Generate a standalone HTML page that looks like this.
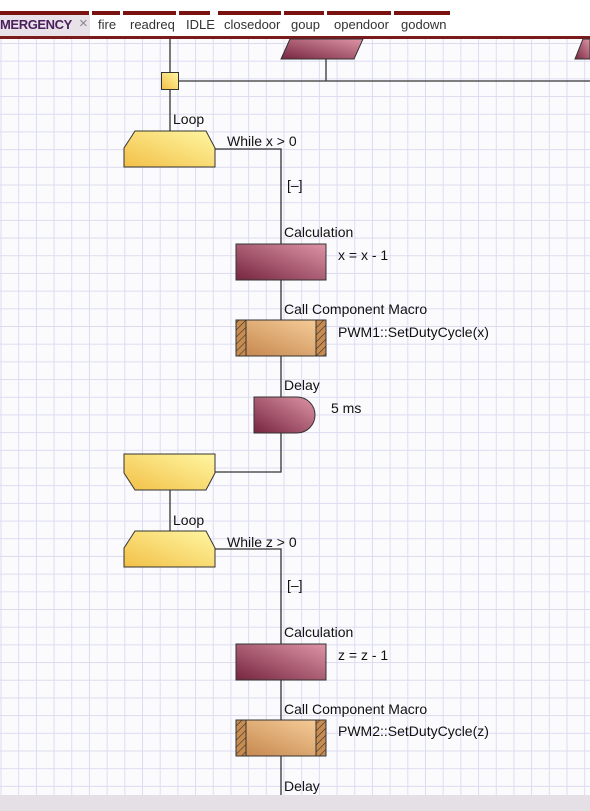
<!DOCTYPE html>
<html><head><style>
body{margin:0;width:590px;height:811px;overflow:hidden;background:#fff;font-family:"Liberation Sans",sans-serif;position:relative}
#grid{position:absolute;left:0;top:39px;width:590px;height:756px;background-color:#fbfbfe;
background-image:linear-gradient(to right,#dcdcf0 1px,transparent 1px),linear-gradient(to bottom,#dcdcf0 1px,transparent 1px);
background-size:17.7px 17.7px;background-position:0.5px 4px}
#tabs{position:absolute;left:0;top:0;width:590px;height:39px;background:#fff}
.t{position:absolute;top:17px;font-size:13px;color:#333}
.s{position:absolute;top:11px;height:4px;background:#7a1212}
#bot{position:absolute;left:0;top:795px;width:590px;height:16px;background:#e5e0e5}
svg{position:absolute;left:0;top:0}
</style></head><body>
<div id="grid"></div>
<div id="tabs">
<div style="position:absolute;left:0;top:15px;width:90px;height:21px;background:#e8e1e8"></div>
<div class="s" style="left:0;width:89px"></div><div class="s" style="left:92px;width:28px"></div><div class="s" style="left:123px;width:53px"></div><div class="s" style="left:179px;width:31px"></div><div class="s" style="left:218px;width:63px"></div><div class="s" style="left:284px;width:40px"></div><div class="s" style="left:327px;width:64px"></div><div class="s" style="left:394px;width:56px"></div>
<div class="t" style="left:0;font-weight:bold;color:#4a1f5c;letter-spacing:-0.4px">MERGENCY</div>
<div class="t" style="left:79px;color:#888;font-size:15px;top:15px">×</div>
<div class="t" style="left:98px">fire</div><div class="t" style="left:130px">readreq</div><div class="t" style="left:186px">IDLE</div><div class="t" style="left:224px">closedoor</div><div class="t" style="left:291px">goup</div><div class="t" style="left:334px">opendoor</div><div class="t" style="left:401px">godown</div>
<div style="position:absolute;left:0;top:36px;width:590px;height:3px;background:#7a1a1a"></div>
</div>
<div id="bot"></div>
<svg width="590" height="795" font-family="Liberation Sans, sans-serif" font-size="14" fill="#111">
<defs>
<linearGradient id="y" x1="0" y1="1" x2="1" y2="0"><stop offset="0" stop-color="#f2c048"/><stop offset="1" stop-color="#fff7a2"/></linearGradient>
<linearGradient id="m" x1="0" y1="1" x2="1" y2="0"><stop offset="0" stop-color="#762640"/><stop offset="1" stop-color="#de95a6"/></linearGradient>
<linearGradient id="c" x1="0" y1="1" x2="1" y2="0"><stop offset="0" stop-color="#c4854c"/><stop offset="1" stop-color="#f8d09c"/></linearGradient>
<pattern id="h" width="5" height="5" patternUnits="userSpaceOnUse" patternTransform="rotate(45)"><rect width="5" height="5" fill="#c98c50"/><line x1="0" y1="0" x2="0" y2="5" stroke="#333" stroke-width="1.2"/></pattern>
</defs>
<g stroke="#333" stroke-width="1.3" fill="none">
<line x1="170" y1="39" x2="170" y2="131"/>
<line x1="178" y1="81" x2="590" y2="81"/>
<line x1="326" y1="59" x2="326" y2="81"/>
<polyline points="215,149 281,149 281,244"/>
<line x1="281" y1="280" x2="281" y2="320"/>
<line x1="281" y1="356" x2="281" y2="397"/>
<polyline points="281,433 281,472 215,472"/>
<line x1="170" y1="490" x2="170" y2="531"/>
<polyline points="215,549 281,549 281,644"/>
<line x1="281" y1="680" x2="281" y2="720"/>
<line x1="281" y1="756" x2="281" y2="795"/>
</g>
<g stroke="#333" stroke-width="1">
<polygon points="290,39 363,39 354,59 281,59" fill="url(#m)"/>
<polygon points="590,39 590,59 575,59 583,39" fill="url(#m)"/>
<rect x="161.5" y="72.5" width="17" height="17" fill="url(#y)"/>
<polygon points="135,131 206,131 215,148 215,167 124,167 124,148" fill="url(#y)"/>
<rect x="236" y="244" width="90" height="36" fill="url(#m)"/>
<rect x="236" y="320" width="90" height="36" fill="url(#c)"/>
<rect x="236" y="320" width="10" height="36" fill="url(#h)"/><rect x="316" y="320" width="10" height="36" fill="url(#h)"/>
<path d="M254,397 H297 A18,18 0 0 1 297,433 H254 Z" fill="url(#m)"/>
<polygon points="124,454 215,454 215,473 206,490 135,490 124,473" fill="url(#y)"/>
<polygon points="135,531 206,531 215,548 215,567 124,567 124,548" fill="url(#y)"/>
<rect x="236" y="644" width="90" height="36" fill="url(#m)"/>
<rect x="236" y="720" width="90" height="36" fill="url(#c)"/>
<rect x="236" y="720" width="10" height="36" fill="url(#h)"/><rect x="316" y="720" width="10" height="36" fill="url(#h)"/>
</g>
<text x="173" y="124">Loop</text>
<text x="227" y="146">While x &gt; 0</text>
<text x="287" y="190">[–]</text>
<text x="284" y="237">Calculation</text>
<text x="338" y="260">x = x - 1</text>
<text x="284" y="314">Call Component Macro</text>
<text x="338" y="337">PWM1::SetDutyCycle(x)</text>
<text x="284" y="390">Delay</text>
<text x="331" y="413">5 ms</text>
<text x="173" y="525">Loop</text>
<text x="227" y="547">While z &gt; 0</text>
<text x="287" y="590">[–]</text>
<text x="284" y="637">Calculation</text>
<text x="338" y="660">z = z - 1</text>
<text x="284" y="714">Call Component Macro</text>
<text x="338" y="736">PWM2::SetDutyCycle(z)</text>
<text x="284" y="791">Delay</text>
</svg>
</body></html>
